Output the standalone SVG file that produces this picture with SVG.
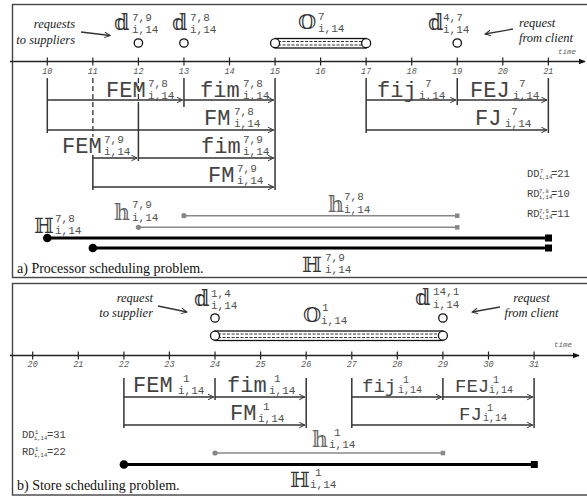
<svg xmlns="http://www.w3.org/2000/svg" width="587" height="497" viewBox="0 0 587 497">
<style>
.m{font-family:"Liberation Mono",monospace;font-size:22px;fill:#444}
.m2{font-family:"Liberation Mono",monospace;font-size:19px;fill:#444}
.s{font-family:"Liberation Mono",monospace;font-size:11px;fill:#505050}
.s2{font-family:"Liberation Mono",monospace;font-size:10px;fill:#505050}
.ds{font-family:"DejaVu Serif","DejaVu Sans",serif;fill:#333}
.hg{fill:#666}
.tk{font-family:"Liberation Mono",monospace;font-style:italic;font-size:8.5px;fill:#555;text-anchor:middle}
.tm{font-family:"Liberation Mono",monospace;font-style:italic;font-size:7.5px;fill:#666;text-anchor:middle}
.ann{font-family:"Liberation Serif",serif;font-style:italic;font-size:12.5px;fill:#222}
.cap{font-family:"Liberation Serif",serif;font-size:14px;fill:#111}
.dd{font-family:"Liberation Mono",monospace;font-size:10.5px;fill:#444}
.ddx{font-family:"Liberation Mono",monospace;font-size:5.5px;fill:#444}
.vl{stroke:#333;stroke-width:1.5;fill:none}
.dsh{stroke:#333;stroke-width:1.3;stroke-dasharray:5,3;fill:none}
.arw{stroke:#333;stroke-width:1.3;fill:none;marker-end:url(#ah)}
.ax{stroke:#222;stroke-width:1.3;fill:none;marker-end:url(#tri)}
.tick{stroke:#222;stroke-width:1.2}
.hl{stroke:#888;stroke-width:1.6;fill:none}
.HL{stroke:#000;stroke-width:3;fill:none}
.circ{fill:#fff;stroke:#111;stroke-width:1.3}
.frame{fill:none;stroke:#444;stroke-width:1.4}
.tube{fill:#fff;stroke:#111;stroke-width:1.3}
.tin{stroke:#333;stroke-width:1.1;stroke-dasharray:3,1.5}
</style>
<defs>
<marker id="ah" viewBox="0 0 10 10" refX="9" refY="5" markerWidth="7" markerHeight="7" orient="auto" markerUnits="userSpaceOnUse"><path d="M1,1 L9,5 L1,9" fill="none" stroke="#333" stroke-width="1.4"/></marker>
<marker id="tri" viewBox="0 0 10 10" refX="9" refY="5" markerWidth="7" markerHeight="7" orient="auto" markerUnits="userSpaceOnUse"><path d="M0,1 L10,5 L0,9 Z" fill="#111"/></marker>
</defs>

<!-- frames -->
<rect class="frame" x="12.5" y="4.5" width="600" height="273"/>
<rect class="frame" x="12.5" y="283.5" width="600" height="211.5"/>

<!-- ===== Panel a axis ===== -->
<g id="axis-a">
<line class="ax" x1="10" y1="61.5" x2="585" y2="61.5"/>
<g class="tick">
<line x1="47.3" y1="57.5" x2="47.3" y2="65.5"/><line x1="92.85" y1="57.5" x2="92.85" y2="65.5"/>
<line x1="138.4" y1="57.5" x2="138.4" y2="65.5"/><line x1="183.95" y1="57.5" x2="183.95" y2="65.5"/>
<line x1="229.5" y1="57.5" x2="229.5" y2="65.5"/><line x1="275.05" y1="57.5" x2="275.05" y2="65.5"/>
<line x1="320.6" y1="57.5" x2="320.6" y2="65.5"/><line x1="366.15" y1="57.5" x2="366.15" y2="65.5"/>
<line x1="411.7" y1="57.5" x2="411.7" y2="65.5"/><line x1="457.25" y1="57.5" x2="457.25" y2="65.5"/>
<line x1="502.8" y1="57.5" x2="502.8" y2="65.5"/><line x1="548.35" y1="57.5" x2="548.35" y2="65.5"/>
</g>
<text class="tk" x="47.3" y="74">10</text><text class="tk" x="92.85" y="74">11</text>
<text class="tk" x="138.4" y="74">12</text><text class="tk" x="183.95" y="74">13</text>
<text class="tk" x="229.5" y="74">14</text><text class="tk" x="275.05" y="74">15</text>
<text class="tk" x="320.6" y="74">16</text><text class="tk" x="366.15" y="74">17</text>
<text class="tk" x="411.7" y="74">18</text><text class="tk" x="457.25" y="74">19</text>
<text class="tk" x="502.8" y="74">20</text><text class="tk" x="548.35" y="74">21</text>
<text class="tm" x="567" y="54">time</text>
</g>

<!-- ===== Panel b axis ===== -->
<g id="axis-b">
<line class="ax" x1="10" y1="355.5" x2="579" y2="355.5"/>
<g class="tick">
<line x1="32.7" y1="351.5" x2="32.7" y2="359.5"/><line x1="78.3" y1="351.5" x2="78.3" y2="359.5"/>
<line x1="123.9" y1="351.5" x2="123.9" y2="359.5"/><line x1="169.4" y1="351.5" x2="169.4" y2="359.5"/>
<line x1="215" y1="351.5" x2="215" y2="359.5"/><line x1="260.6" y1="351.5" x2="260.6" y2="359.5"/>
<line x1="306.2" y1="351.5" x2="306.2" y2="359.5"/><line x1="351.8" y1="351.5" x2="351.8" y2="359.5"/>
<line x1="397.3" y1="351.5" x2="397.3" y2="359.5"/><line x1="442.9" y1="351.5" x2="442.9" y2="359.5"/>
<line x1="488.5" y1="351.5" x2="488.5" y2="359.5"/><line x1="534.1" y1="351.5" x2="534.1" y2="359.5"/>
</g>
<text class="tk" x="32.7" y="367">20</text><text class="tk" x="78.3" y="367">21</text>
<text class="tk" x="123.9" y="367">22</text><text class="tk" x="169.4" y="367">23</text>
<text class="tk" x="215" y="367">24</text><text class="tk" x="260.6" y="367">25</text>
<text class="tk" x="306.2" y="367">26</text><text class="tk" x="351.8" y="367">27</text>
<text class="tk" x="397.3" y="367">28</text><text class="tk" x="442.9" y="367">29</text>
<text class="tk" x="488.5" y="367">30</text><text class="tk" x="534.1" y="367">31</text>
<text class="tm" x="563" y="347">time</text>
</g>

<!-- ===== connectors ===== -->
<g id="connectors">
<line class="vl" x1="47.3" y1="78" x2="47.3" y2="133"/>
<line class="dsh" x1="92.85" y1="78" x2="92.85" y2="137"/>
<line class="vl" x1="92.85" y1="155" x2="92.85" y2="190"/>
<line class="dsh" x1="138.4" y1="78" x2="138.4" y2="105"/>
<line class="vl" x1="138.4" y1="105" x2="138.4" y2="161"/>
<line class="vl" x1="183.95" y1="78" x2="183.95" y2="107"/>
<line class="vl" x1="275.05" y1="78" x2="275.05" y2="190"/>
<line class="vl" x1="366.15" y1="78" x2="366.15" y2="133"/>
<line class="vl" x1="457.25" y1="78" x2="457.25" y2="105"/>
<line class="vl" x1="548.35" y1="78" x2="548.35" y2="133"/>
<line class="arw" x1="47.3" y1="100" x2="182.5" y2="100"/>
<line class="arw" x1="183.95" y1="100" x2="273.6" y2="100"/>
<line class="arw" x1="366.15" y1="100" x2="455.8" y2="100"/>
<line class="arw" x1="457.25" y1="100" x2="546.9" y2="100"/>
<line class="arw" x1="47.3" y1="130" x2="273.6" y2="130"/>
<line class="arw" x1="366.15" y1="130" x2="546.9" y2="130"/>
<line class="arw" x1="92.85" y1="158" x2="137" y2="158"/>
<line class="arw" x1="138.4" y1="158" x2="273.6" y2="158"/>
<line class="arw" x1="92.85" y1="187" x2="273.6" y2="187"/>
<line class="hl" x1="183.95" y1="215.7" x2="457.25" y2="215.7"/>
<circle cx="183.95" cy="215.7" r="2.6" fill="#888"/><rect x="455" y="213.5" width="4.5" height="4.5" fill="#888"/>
<line class="hl" x1="138.4" y1="227.3" x2="457.25" y2="227.3"/>
<circle cx="138.4" cy="227.3" r="2.6" fill="#888"/><rect x="455" y="225.1" width="4.5" height="4.5" fill="#888"/>
<line class="HL" x1="47.3" y1="238" x2="548.35" y2="238"/>
<circle cx="47.3" cy="238" r="4.3" fill="#000"/><rect x="545" y="234.5" width="7" height="7" fill="#000"/>
<line class="HL" x1="92.85" y1="248" x2="548.35" y2="248"/>
<circle cx="92.85" cy="248" r="4.3" fill="#000"/><rect x="545" y="244.5" width="7" height="7" fill="#000"/>
<line class="arw" x1="81" y1="32" x2="110" y2="35.5"/>
<line class="arw" x1="513" y1="29" x2="485" y2="34"/>

<line class="vl" x1="123.9" y1="378" x2="123.9" y2="428"/>
<line class="vl" x1="215" y1="378" x2="215" y2="400"/>
<line class="vl" x1="306.2" y1="378" x2="306.2" y2="428"/>
<line class="vl" x1="351.8" y1="378" x2="351.8" y2="428"/>
<line class="vl" x1="442.9" y1="378" x2="442.9" y2="400"/>
<line class="vl" x1="534.1" y1="378" x2="534.1" y2="428"/>
<line class="arw" x1="123.9" y1="397" x2="213.6" y2="397"/>
<line class="arw" x1="215" y1="397" x2="304.8" y2="397"/>
<line class="arw" x1="351.8" y1="397" x2="441.5" y2="397"/>
<line class="arw" x1="442.9" y1="397" x2="532.7" y2="397"/>
<line class="arw" x1="123.9" y1="425" x2="304.8" y2="425"/>
<line class="arw" x1="351.8" y1="425" x2="532.7" y2="425"/>
<line class="hl" x1="215" y1="453" x2="442.9" y2="453"/>
<circle cx="215" cy="453" r="2.6" fill="#888"/><rect x="440.7" y="450.8" width="4.5" height="4.5" fill="#888"/>
<line class="HL" x1="123.9" y1="464.5" x2="534.1" y2="464.5"/>
<circle cx="123.9" cy="464.5" r="4.3" fill="#000"/><rect x="530.8" y="461" width="7" height="7" fill="#000"/>
<line class="arw" x1="158" y1="306" x2="187" y2="312"/>
<line class="arw" x1="500" y1="307" x2="472" y2="312"/>
</g>

<!-- ===== Panel a nodes ===== -->
<g id="a-req-suppliers"><text class="ann" x="75" y="28" text-anchor="end">requests</text><text class="ann" x="75" y="44" text-anchor="end">to suppliers</text></g>
<g id="a-req-client"><text class="ann" x="519" y="26.5">request</text><text class="ann" x="519" y="42">from client</text></g>

<g id="a-d79"><text class="ds" font-size="22" x="114" y="30">𝕕</text><text class="s" x="132" y="21">7,9</text><text class="s" x="132" y="32.5">i,14</text><circle class="circ" cx="138.4" cy="43" r="4.2"/></g>
<g id="a-d78"><text class="ds" font-size="22" x="172" y="30">𝕕</text><text class="s" x="190" y="21">7,8</text><text class="s" x="190" y="32.5">i,14</text><circle class="circ" cx="183.95" cy="43" r="4.2"/></g>
<g id="a-d47"><text class="ds" font-size="22" x="428" y="30">𝕕</text><text class="s" x="443" y="21">4,7</text><text class="s" x="443" y="32.5">i,14</text><circle class="circ" cx="457.25" cy="43" r="4.2"/></g>
<g id="a-O7">
<rect class="tube" x="275.05" y="38.5" width="91.1" height="9.5"/>
<line class="tin" x1="278" y1="41.5" x2="364" y2="41.5"/><line class="tin" x1="278" y1="45" x2="364" y2="45"/>
<circle class="circ" cx="275.05" cy="43.2" r="4.5"/><circle class="circ" cx="366.15" cy="43.2" r="4.5"/>
<text class="ds" font-size="21" x="298" y="29">𝕆</text><text class="s" x="318" y="20">7</text><text class="s" x="318" y="31.5">i,14</text>
</g>

<g id="a-FEM78"><text class="m" x="106" y="97">FEM</text><text class="s" x="148" y="87">7,8</text><text class="s" x="148" y="98.5">i,14</text></g>
<g id="a-fim78"><text class="m" x="200" y="97">fim</text><text class="s" x="243" y="87">7,8</text><text class="s" x="243" y="98.5">i,14</text></g>
<g id="a-FM78"><text class="m" x="204" y="125">FM</text><text class="s" x="234" y="115">7,8</text><text class="s" x="234" y="126.5">i,14</text></g>
<g id="a-fij7"><text class="m" x="377" y="97">fij</text><text class="s" x="425" y="87">7</text><text class="s" x="419" y="98.5">i,14</text></g>
<g id="a-FEJ7"><text class="m" x="470" y="97">FEJ</text><text class="s" x="519" y="87">7</text><text class="s" x="513" y="98.5">i,14</text></g>
<g id="a-FJ7"><text class="m" x="475" y="125">FJ</text><text class="s" x="511" y="115">7</text><text class="s" x="505" y="126.5">i,14</text></g>
<g id="a-FEM79"><text class="m" x="62" y="153">FEM</text><text class="s" x="104" y="143">7,9</text><text class="s" x="104" y="154.5">i,14</text></g>
<g id="a-fim79"><text class="m" x="201" y="153">fim</text><text class="s" x="243" y="143">7,9</text><text class="s" x="243" y="154.5">i,14</text></g>
<g id="a-FM79"><text class="m" x="208" y="182">FM</text><text class="s" x="237" y="172">7,9</text><text class="s" x="237" y="183.5">i,14</text></g>

<g id="a-h79"><text class="ds hg" font-size="22" x="114" y="220">𝕙</text><text class="s" x="132" y="208">7,9</text><text class="s" x="132" y="221">i,14</text></g>
<g id="a-h78"><text class="ds hg" font-size="22" x="328" y="212">𝕙</text><text class="s" x="344" y="200">7,8</text><text class="s" x="344" y="213">i,14</text></g>
<g id="a-H78"><text class="ds" font-size="21" x="34" y="233">ℍ</text><text class="s" x="55" y="221.5">7,8</text><text class="s" x="55" y="234">i,14</text></g>
<g id="a-H79"><text class="ds" font-size="21" x="302" y="272">ℍ</text><text class="s" x="325" y="260.5">7,9</text><text class="s" x="325" y="273">i,14</text></g>

<g id="a-DD">
<text class="dd" x="527" y="177">DD</text><text class="ddx" x="540" y="172.5">7</text><text class="ddx" x="539" y="178.5">i,14</text><text class="dd" x="551" y="177">=21</text>
<text class="dd" x="527" y="197">RD</text><text class="ddx" x="539" y="192.5">7,8</text><text class="ddx" x="539" y="198.5">i,14</text><text class="dd" x="551" y="197">=10</text>
<text class="dd" x="527" y="217">RD</text><text class="ddx" x="539" y="212.5">7,9</text><text class="ddx" x="539" y="218.5">i,14</text><text class="dd" x="551" y="217">=11</text>
</g>
<g id="a-caption"><text class="cap" x="17" y="273">a) Processor scheduling problem.</text></g>

<!-- ===== Panel b nodes ===== -->
<g id="b-req-supplier"><text class="ann" x="153" y="302" text-anchor="end">request</text><text class="ann" x="153" y="317" text-anchor="end">to supplier</text></g>
<g id="b-req-client"><text class="ann" x="531.5" y="302" text-anchor="middle">request</text><text class="ann" x="531.5" y="317" text-anchor="middle">from client</text></g>

<g id="b-d14"><text class="ds" font-size="22" x="194" y="306">𝕕</text><text class="s" x="211" y="297">1,4</text><text class="s" x="211" y="308.5">i,14</text><circle class="circ" cx="215" cy="318" r="4.2"/></g>
<g id="b-d141"><text class="ds" font-size="22" x="415" y="305">𝕕</text><text class="s" x="433" y="295">14,1</text><text class="s" x="433" y="307.5">i,14</text><circle class="circ" cx="442.9" cy="318" r="4.2"/></g>
<g id="b-O1">
<rect class="tube" x="215" y="331" width="227.9" height="9.5"/>
<line class="tin" x1="218" y1="334" x2="440" y2="334"/><line class="tin" x1="218" y1="337.5" x2="440" y2="337.5"/>
<circle class="circ" cx="215" cy="335.7" r="4.5"/><circle class="circ" cx="442.9" cy="335.7" r="4.5"/>
<text class="ds" font-size="21" x="303" y="322">𝕆</text><text class="s" x="322" y="311">1</text><text class="s" x="321" y="323.5">i,14</text>
</g>

<g id="b-FEM1"><text class="m" x="133" y="392">FEM</text><text class="s" x="183" y="382">1</text><text class="s" x="178" y="393.5">i,14</text></g>
<g id="b-fim1"><text class="m" x="227" y="392">fim</text><text class="s" x="274" y="382">1</text><text class="s" x="269" y="393.5">i,14</text></g>
<g id="b-FM1"><text class="m" x="230" y="420">FM</text><text class="s" x="263" y="410">1</text><text class="s" x="258" y="421.5">i,14</text></g>
<g id="b-fij1"><text class="m2" x="362" y="392">fij</text><text class="s2" x="403" y="383">1</text><text class="s2" x="398" y="393">i,14</text></g>
<g id="b-FEJ1"><text class="m2" x="455" y="392">FEJ</text><text class="s2" x="493" y="383">1</text><text class="s2" x="489" y="393">i,14</text></g>
<g id="b-FJ1"><text class="m2" x="459" y="420">FJ</text><text class="s2" x="487" y="411">1</text><text class="s2" x="483" y="421">i,14</text></g>

<g id="b-h1"><text class="ds hg" font-size="22" x="312" y="447">𝕙</text><text class="s" x="334" y="436">1</text><text class="s" x="329" y="448">i,14</text></g>
<g id="b-H1"><text class="ds" font-size="21" x="290" y="487">ℍ</text><text class="s" x="315" y="476">1</text><text class="s" x="310" y="488">i,14</text></g>

<g id="b-DD">
<text class="dd" x="22" y="438">DD</text><text class="ddx" x="35" y="433.5">1</text><text class="ddx" x="34" y="439.5">i,14</text><text class="dd" x="47" y="438">=31</text>
<text class="dd" x="22" y="455">RD</text><text class="ddx" x="35" y="450.5">1</text><text class="ddx" x="34" y="456.5">i,14</text><text class="dd" x="47" y="455">=22</text>
</g>
<g id="b-caption"><text class="cap" x="17" y="490">b) Store scheduling problem.</text></g>
</svg>
